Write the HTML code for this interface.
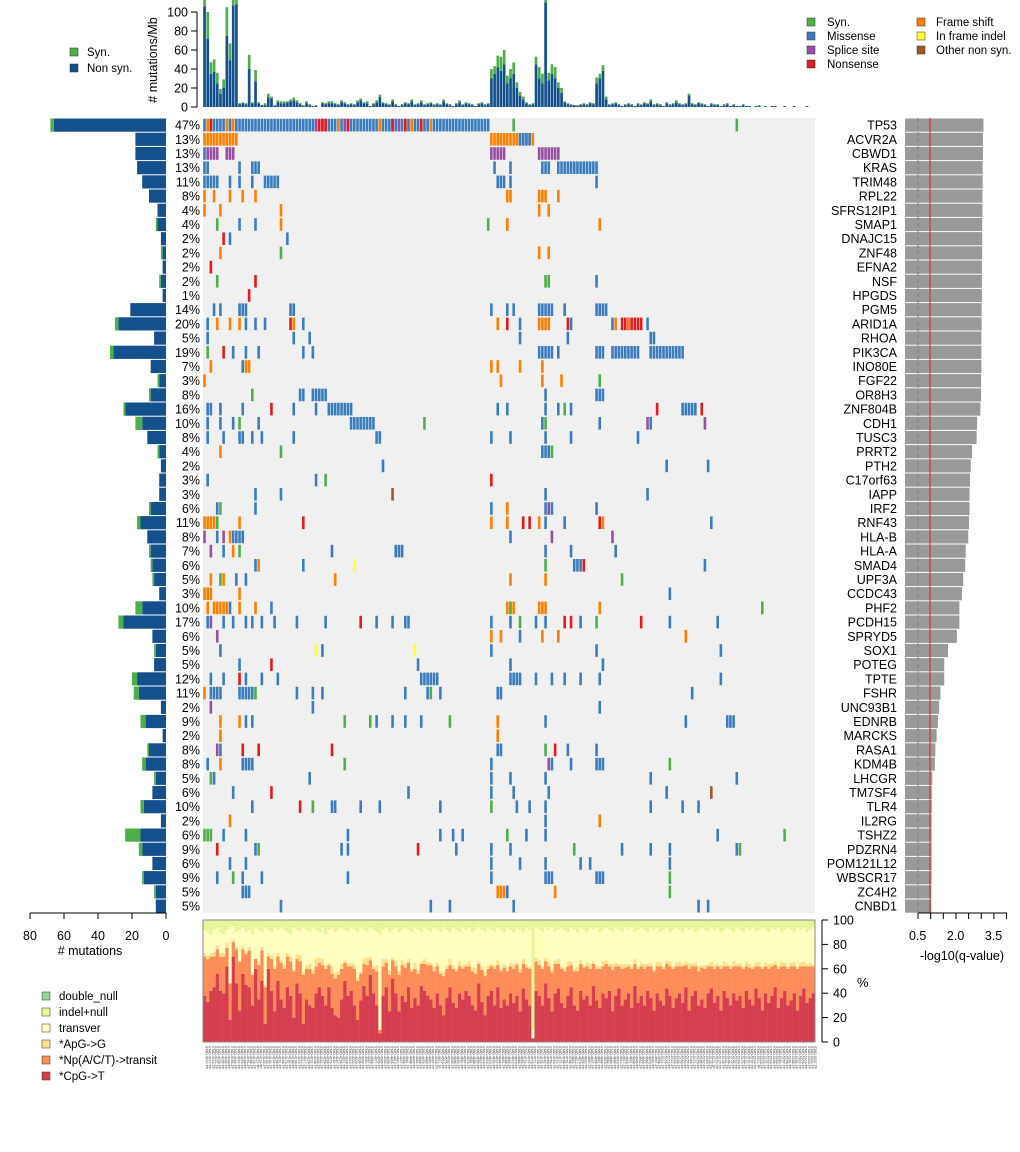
<!DOCTYPE html>
<html><head><meta charset="utf-8"><style>
body{margin:0;background:#fff;}
svg{display:block;font-family:"Liberation Sans",sans-serif;}
</style></head><body>
<svg id="c" width="1020" height="1152" viewBox="0 0 1020 1152"></svg>
<script>
const genes=["TP53","ACVR2A","CBWD1","KRAS","TRIM48","RPL22","SFRS12IP1","SMAP1","DNAJC15","ZNF48","EFNA2","NSF","HPGDS","PGM5","ARID1A","RHOA","PIK3CA","INO80E","FGF22","OR8H3","ZNF804B","CDH1","TUSC3","PRRT2","PTH2","C17orf63","IAPP","IRF2","RNF43","HLA-B","HLA-A","SMAD4","UPF3A","CCDC43","PHF2","PCDH15","SPRYD5","SOX1","POTEG","TPTE","FSHR","UNC93B1","EDNRB","MARCKS","RASA1","KDM4B","LHCGR","TM7SF4","TLR4","IL2RG","TSHZ2","PDZRN4","POM121L12","WBSCR17","ZC4H2","CNBD1"];
const pcts=["47%","13%","13%","13%","11%","8%","4%","4%","2%","2%","2%","2%","1%","14%","20%","5%","19%","7%","3%","8%","16%","10%","8%","4%","2%","3%","3%","6%","11%","8%","7%","6%","5%","3%","10%","17%","6%","5%","5%","12%","11%","2%","9%","2%","8%","8%","5%","6%","10%","2%","6%","9%","6%","9%","5%","5%"];
const geneNonSyn=[66,18,18,17,14,10,5,5,3,2,2,3,2,21,28,7,31,9,4,9,24,14,11,4,3,4,4,9,15,11,9,8,7,4,14,25,8,6,7,17,16,3,12,2,10,12,6,8,13,3,15,14,8,13,6,6];
const geneSyn=[2,0,0,0,0,0,0,1,0,1,0,1,0,0,2,0,2,0,1,1,1,4,0,1,0,0,0,1,2,0,1,1,1,0,4,3,0,1,0,3,3,0,3,0,1,2,1,0,2,0,9,2,0,1,1,0];
const qvals=[3.1,3.08,3.08,3.07,3.07,3.06,3.06,3.05,3.05,3.05,3.04,3.04,3.04,3.03,3.03,3.02,3.02,3.02,3.01,3.01,2.98,2.85,2.83,2.65,2.6,2.57,2.55,2.55,2.53,2.5,2.4,2.38,2.3,2.25,2.15,2.15,2.05,1.7,1.55,1.55,1.4,1.35,1.3,1.25,1.2,1.18,1.08,1.06,1.06,1.05,1.05,1.05,1.05,1.05,1.04,1.04];
const cells=[
"0-89:M 1:F 2:N 7:F 9:F 35:P 36:N 37:N 38:N 42:F 44:P 45:N 55:F 59:N 61:P 63:N 65:F 68:N 71:F 97:S 167:S",
"0-10:F 90-103:F 99-102:M",
"0:M 1-4:P 7-9:P 90-94:P 105-111:P",
"0-1:M 11:M 15-17:M 91:M 96:M 106-108:M 111-123:M",
"0-4:M 8:M 11:M 15:M 19-23:M 92-94:M 96:M 123:M",
"0:F 3:F 8:F 12:F 16:F 95-96:F 105-107:F 111:F",
"0:F 5:F 24:F 105:F 108:F",
"4:S 11:M 16:M 24:F 89:S 95:F 124:F",
"6:N 8:M 26:M",
"5:F 24:S 105:F 108:F",
"2:N",
"4:S 16:N 107-108:S 123:M",
"14:N",
"3:M 5:M 11-13:M 27-28:M 90:M 95:M 97:M 105-109:M 113:M 123-126:M",
"1:M 4:F 8:F 11:F 13:M 16:M 19:M 27:N 28:F 31:M 92:F 95:N 99:M 105-108:F 114:N 115:M 128:M 129:F 131-137:N 133:F 139:M",
"1:M 28:M 33:M 99:M 114:M 140-141:M",
"1:S 6:N 9:M 13:M 17:M 31:M 34:M 105-109:M 111:M 123-125:M 128-136:M 140-150:M",
"2:F 12:M 13-14:F 90:F 92:F 99:F 106:F",
"0:F 93:F 106:F 112:F 124:S",
"15:S 30-31:M 34-38:M 107:M 123-125:M",
"1-2:M 5:M 12:M 21:N 28:M 35:M 39-46:M 92:M 95:M 107:M 111:M 113:S 115:M 142:N 150-154:M 156:N",
"1:M 5:M 9:M 11:S 17:M 46-53:M 69:S 106:M 107:S 124:M 139:P 140:M 157:P",
"1:M 6:M 11-12:M 15:M 18:M 28:M 54-55:M 90:M 96:M 107:M 115:M 136:M",
"5:F 24:S 106-108:M 109:S",
"56:M 145:M 158:M",
"1:M 35:M 38:S 90:N",
"16:M 24:M 59:O 107:M 139:M",
"4:M 5:S 16:M 90:M 95:F 107:M 108:P 109:M 123:M",
"0-3:F 4:S 11:F 31:N 90:F 95:F 100:N 102:N 105:F 107:M 113:M 124:N 125:F 159:M",
"0:P 4:M 6:P 8:F 9-12:M 96:M 109:P 128:P",
"2:P 6:M 9:F 11:S 40:M 60-62:M 107:M 115:M 129:M",
"16:M 17:F 31:M 47:I 107:S 116-118:M 119:N 157:M",
"2:F 5:S 6:F 10:M 13:M 41:F 96:F 107:F 131:S",
"0-2:F 11:F 146:M",
"1:F 3-7:F 8:M 11:F 16:F 21:M 95-97:F 96:S 105-107:F 124:F 175:S",
"1:M 2:P 6:M 9:M 13:M 15:M 18:M 22:M 29:M 38:M 49:N 54:M 59:M 63-64:M 90:M 96:M 99:S 104:M 107:M 113:N 115:N 118:M 123:S 137:N 146:M 161:M",
"4:P 90:F 93:F 99:M 106:F 111:F 151:F",
"5:M 35:I 37:M 66:I 90:M 123:M 162:M",
"11:M 21:N 67:M 96:M 125:M",
"2:M 6:M 11:N 13:M 18:M 23:M 68-73:M 96-99:M 104:M 109:M 113:M 118:M 124:M 162:M",
"0:F 2-5:M 11-15:M 16:S 29:M 34:M 37:M 63:M 70:M 71:S 74:M 92:M 93:M 153:M",
"2:P 34:M 124:M",
"5:F 11:F 13:M 15:M 44:S 52:S 54:M 59:M 63:M 68:M 77:S 92:F 107:M 151:M 164-166:M",
"5:F 92:F",
"4:P 5:M 12:N 17:N 40:N 92-93:M 107:S 110:N 114:M 123:M",
"1:M 5:F 12-15:M 44:S 90:M 108:P 109:M 115:M 123-125:M 146:S",
"2:S 3:M 33:M 90:M 96:M 107:M 140:M 167:M",
"9:M 21:N 64:M 90:M 97:M 108:M 145:M 159:O",
"15:M 30:N 34:S 40-41:M 49:M 55:M 74:M 90:S 98:M 102:M 107:M 140:M 150:M 155:M",
"8:F 107:M 124:F",
"0-2:S 6:M 13:M 45:M 74:M 78:M 81:M 95:S 101:M 107:M 161:M 182:S",
"4:N 16:M 17:S 43:M 45:M 67:N 79:M 90:M 96:M 116:S 131:M 140:M 146:M 167:M 168:S",
"8:M 13:M 90:M 99:M 107:M 118:M 121:M 146:M",
"4:M 9:S 12:M 18:M 45:M 90:M 107-109:M 123-125:M 146:S",
"12-14:M 92-94:F 95:M 110:F 146:S",
"24:M 71:M 77:M 97:M 155:M 158:M"];
const mbNonSyn=[106,72,35,37,25,14,20,75,49,107,108,3,4,3,40,4,27,4,2,2,10,9,1,5,
4,4,5,6,7,5,3,1,4,2,1,1,0,4,3,4,4,3,2,5,4,2,3,2,
5,7,4,4,1,3,5,10,4,3,2,6,2,1,2,4,3,6,2,3,5,2,3,4,
2,3,2,6,3,2,1,3,5,2,4,3,2,1,3,4,2,3,30,35,42,38,45,25,
30,35,20,12,8,4,2,3,45,30,25,110,28,35,30,20,15,5,3,2,2,1,2,3,
2,4,3,25,30,38,8,2,3,4,2,1,2,3,2,1,3,2,4,3,6,2,3,2,
1,4,2,3,5,3,2,3,12,3,2,4,3,2,1,3,2,2,1,2,3,1,2,1,
1,2,1,1,0,1,1,0,1,0,1,1,0,0,1,0,0,1,0,0,0,1,0,0];
const mbSyn=[10,28,12,13,11,5,9,30,18,10,5,1,1,1,15,1,12,1,0,2,4,2,1,2,
2,2,1,2,3,2,1,1,2,1,0,1,0,1,1,2,2,1,1,2,1,1,1,1,
2,2,1,2,0,1,2,3,1,1,1,2,1,0,1,1,1,2,1,1,2,1,1,1,
1,1,1,2,1,1,0,1,2,1,1,1,1,0,1,1,1,1,10,8,12,15,15,8,
10,12,6,4,3,1,1,1,8,12,10,5,8,10,12,6,5,1,1,1,0,1,1,1,
1,1,1,6,5,6,3,1,1,1,1,0,1,1,1,0,1,1,1,1,2,1,1,1,
0,1,1,1,2,1,1,1,2,1,1,1,1,1,0,1,1,1,0,1,1,0,1,0,
0,1,0,0,0,0,1,0,0,0,0,0,0,0,0,0,0,0,0,0,0,0,0,0];
const pctCpG=[38,33,42,45,56,42,40,62,18,70,48,26,56,47,45,30,60,35,50,15,60,42,25,50,
35,28,45,38,20,48,40,15,35,30,28,40,45,38,30,45,28,22,20,35,50,38,42,30,
18,34,46,38,55,40,30,7,38,45,25,52,40,25,38,33,45,28,36,30,46,42,38,35,
28,40,30,22,36,45,32,28,40,35,42,38,30,26,48,33,22,38,42,30,45,28,35,30,
40,32,38,25,44,35,30,3,42,38,30,48,36,25,40,44,32,28,38,45,30,26,42,35,
38,30,46,34,28,40,36,42,25,38,44,30,35,40,28,46,32,38,30,42,36,26,40,34,
30,44,38,28,36,40,32,45,26,38,42,30,35,28,40,44,32,38,26,42,36,30,40,34,
38,28,42,35,30,44,36,26,40,32,38,45,28,36,42,30,34,40,26,38,44,32,36,40];
const pctTransit=[32,35,28,25,20,28,30,15,30,12,28,40,20,25,30,25,8,28,25,30,10,26,35,20,
30,32,25,28,38,20,26,40,25,30,28,22,20,25,30,18,28,30,35,25,15,24,20,30,
32,22,18,25,12,20,28,3,24,20,30,15,22,30,25,28,20,30,24,26,18,22,25,28,
30,22,26,32,24,18,28,30,22,25,20,24,28,30,16,26,32,22,20,30,18,30,26,28,
22,28,25,32,20,26,30,0,24,25,30,18,26,32,24,20,28,30,24,18,28,32,22,26,
24,30,18,26,32,22,28,20,34,24,18,30,26,22,32,18,28,24,30,20,26,32,22,28,
30,20,24,32,26,22,30,18,34,24,20,28,26,32,22,18,28,24,34,20,26,30,22,28,
24,32,20,26,30,18,26,34,22,28,24,18,32,26,20,30,28,22,34,24,18,30,26,22];
const pctApG=[3,3,3,4,3,3,3,4,0,2,2,0,3,2,3,2,0,3,3,2,3,3,2,3,
2,3,3,4,2,4,5,2,3,4,3,6,4,5,3,2,6,5,3,4,2,3,3,4,
3,2,4,6,3,2,5,0,6,3,4,2,5,3,4,4,3,2,5,3,2,4,3,2,
4,3,2,4,3,5,3,2,4,3,2,4,3,5,2,3,4,3,2,3,4,2,3,4,
3,4,2,3,4,3,2,0,3,4,2,3,4,2,3,4,2,3,4,3,2,4,3,2,
3,4,2,3,2,4,3,2,5,3,2,4,3,2,3,4,2,3,4,2,3,2,4,3,
2,3,4,2,3,4,2,3,5,2,3,4,2,3,2,4,3,2,3,4,2,3,4,2,
3,2,4,3,2,3,4,2,3,4,2,3,2,4,3,2,3,4,2,3,4,2,3,2];
const pctIndel=[8,10,12,8,6,10,12,8,6,5,10,8,6,10,8,12,6,8,10,6,8,10,6,8,
6,8,10,12,6,8,10,6,8,10,6,8,10,6,12,8,6,10,8,6,8,10,6,8,
10,6,8,10,6,8,10,12,8,6,10,8,6,10,8,6,8,10,6,8,10,6,8,10,
6,8,10,6,8,10,6,8,10,6,8,6,10,8,6,8,10,6,8,10,6,8,10,6,
8,10,6,8,10,6,8,90,6,8,10,6,8,6,10,8,6,8,10,6,8,10,6,8,
10,6,8,6,10,8,6,8,10,6,8,10,6,8,6,10,8,6,8,10,6,8,6,10,
8,6,10,8,6,8,10,6,8,6,10,8,6,8,10,6,8,6,10,8,6,8,10,6,
8,10,6,8,6,10,8,6,8,10,6,8,6,10,8,6,8,10,6,8,6,10,8,6];
const mbTicks=[0,20,40,60,80,100];
const countTicks=[80,60,40,20,0];
const qTicks=[0.5,2.0,3.5];
const pctTicks=[0,20,40,60,80,100];

const NS="http://www.w3.org/2000/svg";
const svg=document.getElementById('c');
function mk(tag,attrs,parent){const e=document.createElementNS(NS,tag);for(const k in attrs)e.setAttribute(k,attrs[k]);(parent||svg).appendChild(e);return e;}
const COL={M:"#3a7dbf",S:"#4daf4a",P:"#984ea3",N:"#e41a1c",F:"#ff7f00",I:"#ffff33",O:"#a65628"};
const NSAMP=mbNonSyn.length;
const GX0=203,GX1=815,GY0=118,RH=14.2;
const cw=(GX1-GX0)/NSAMP;
const sx=i=>GX0+i*cw;
const ry=g=>GY0+g*RH;
const bg=mk('rect',{x:GX0,y:GY0,width:GX1-GX0,height:genes.length*RH,fill:"#f0f0f0"});


for(let g=0;g<genes.length;g++){
  const gr=mk('g',{});
  
  
  cells[g].split(' ').forEach(tok=>{
    const [r,t]=tok.split(':');const p=r.split('-');const a=+p[0],b=p.length>1?+p[1]:a;
    for(let i=a;i<=b;i++){
      const c=mk('rect',{x:sx(i)+0.2,y:ry(g)+0.8,width:cw-0.6,height:RH-1.6,fill:COL[t]},gr);
      
      
    }
  });
  const pl=mk('text',{x:200,y:ry(g)+RH/2+4.5,'text-anchor':'end','font-size':12.5,fill:'#000'});
  pl.textContent=pcts[g];
  
  
  const gl=mk('text',{x:897,y:ry(g)+RH/2+4.5,'text-anchor':'end','font-size':12.5,fill:'#000'});
  gl.textContent=genes[g];
  
  
  const cx=v=>166-v*1.7;
  const nb=mk('rect',{x:cx(geneNonSyn[g]),y:ry(g)+0.5,width:geneNonSyn[g]*1.7,height:RH-1,fill:'#13508c'});
  
  
  if(geneSyn[g]>0){const sb=mk('rect',{x:cx(geneNonSyn[g]+geneSyn[g]),y:ry(g)+0.5,width:geneSyn[g]*1.7,height:RH-1,fill:'#4daf4a'});
  
  }
  const qb=mk('rect',{x:905,y:ry(g)+0.5,width:qvals[g]*25.3,height:RH-1,fill:'#999'});
  
  
}
mk('line',{x1:918,x2:918,y1:GY0,y2:GY0+genes.length*RH,stroke:'#8877aa','stroke-dasharray':'4,3','stroke-width':1});
mk('line',{x1:930,x2:930,y1:GY0,y2:GY0+genes.length*RH,stroke:'#e41a1c','stroke-width':1});
const ay=913;
mk('line',{x1:30,x2:166,y1:ay,y2:ay,stroke:'#000'});
countTicks.forEach(v=>{const x=166-v*1.7;mk('line',{x1:x,x2:x,y1:ay,y2:ay+6,stroke:'#000'});
 const t=mk('text',{x:x,y:ay+27,'text-anchor':'middle','font-size':12.5});t.textContent=v;
 });
let t=mk('text',{x:90,y:955,'text-anchor':'middle','font-size':12.5});t.textContent='# mutations';

mk('line',{x1:918,x2:1007,y1:ay,y2:ay,stroke:'#000'});
for(let k=0;k<8;k++){const x=918+k*12.65;mk('line',{x1:x,x2:x,y1:ay,y2:ay+6,stroke:'#000'});}
qTicks.forEach(v=>{const x=905+v*25.3;const tt=mk('text',{x:x,y:ay+27,'text-anchor':'middle','font-size':12.5});tt.textContent=v.toFixed(1);
 });
t=mk('text',{x:962,y:960,'text-anchor':'middle','font-size':12.5});t.textContent='-log10(q-value)';

const my=v=>107-v*0.95;
const topg=mk('g',{});


mk('clipPath',{id:'clipTop'}).appendChild(mk('rect',{x:GX0,y:0,width:620,height:108}));
topg.setAttribute('clip-path','url(#clipTop)');
for(let i=0;i<NSAMP;i++){
  const a=mbNonSyn[i],b=mbSyn[i];
  const r1=mk('rect',{x:sx(i)+0.2,y:my(a),width:cw-0.5,height:a*0.95,fill:'#13508c'},topg);
  
  
  const r2=mk('rect',{x:sx(i)+0.2,y:my(a+b),width:cw-0.5,height:b*0.95,fill:'#4daf4a'},topg);
  
  
}
mk('line',{x1:197,x2:197,y1:my(0),y2:my(100),stroke:'#000'});
mbTicks.forEach(v=>{mk('line',{x1:191,x2:197,y1:my(v),y2:my(v),stroke:'#000'});
 const tt=mk('text',{x:188,y:my(v)+4.5,'text-anchor':'end','font-size':12.5});tt.textContent=v;
 });
t=mk('text',{x:0,y:0,'text-anchor':'middle','font-size':12.5,transform:'translate(157,60) rotate(-90)'});t.textContent='# mutations/Mb';

function leg(x,y,c,label,name,tx){const r=mk('rect',{x:x,y:y,width:8,height:8,fill:c,stroke:'#333','stroke-width':0.5});
 
 const tt=mk('text',{x:x+(tx||17),y:y+8,'font-size':11.5});tt.textContent=label;
 }
leg(70,48,'#4daf4a','Syn.','legend-top-syn');leg(70,64,'#13508c','Non syn.','legend-top-nonsyn');
leg(807,18,COL.S,'Syn.','legend-syn',20);leg(807,32,COL.M,'Missense','legend-missense',20);
leg(807,46,COL.P,'Splice site','legend-splice',20);leg(807,60,COL.N,'Nonsense','legend-nonsense',20);
leg(917,18,COL.F,'Frame shift','legend-frameshift',19);leg(917,32,COL.I,'In frame indel','legend-inframe',19);
leg(917,46,COL.O,'Other non syn.','legend-other',19);
const BY0=920,BY1=1042;const py=v=>BY1-v*1.22;
const botg=mk('g',{});


const SC=['#d53e4f','#fc8d59','#fee08b','#ffffbf','#e6f598','#99d594'];
for(let i=0;i<NSAMP;i++){
  const tr=100-pctCpG[i]-pctTransit[i]-pctApG[i]-pctIndel[i];
  const vals=[pctCpG[i],pctTransit[i],pctApG[i],tr,pctIndel[i]];
  let acc=0;
  vals.forEach((v,k)=>{const r=mk('rect',{x:sx(i),y:py(acc+v),width:cw+0.2,height:v*1.22,fill:SC[k]},botg);
    
    
    acc+=v;});
  const lb=mk('text',{x:0,y:0,'font-size':3.4,fill:'#444',transform:`translate(${sx(i)+cw*0.75},1046) rotate(90)`});
  lb.textContent='STAD-'+(4000+i*7)+'-TP';
  
  
}
mk('rect',{x:GX0,y:BY0,width:GX1-GX0,height:BY1-BY0,fill:'none',stroke:'#888'});
mk('line',{x1:822,x2:822,y1:py(0),y2:py(100),stroke:'#000'});
pctTicks.forEach(v=>{mk('line',{x1:822,x2:828,y1:py(v),y2:py(v),stroke:'#000'});
 const tt=mk('text',{x:833,y:py(v)+4.5,'font-size':12.5});tt.textContent=v;
 });
t=mk('text',{x:857,y:987,'font-size':13});t.textContent='%';

const bl=[['double_null','#99d594'],['indel+null','#e6f598'],['transver','#ffffbf'],['*ApG->G','#fee08b'],['*Np(A/C/T)->transit','#fc8d59'],['*CpG->T','#d53e4f']];
bl.forEach((b,k)=>leg(42,992+k*16,b[1],b[0],'legend-spectrum-'+k));
</script>
</body></html>
